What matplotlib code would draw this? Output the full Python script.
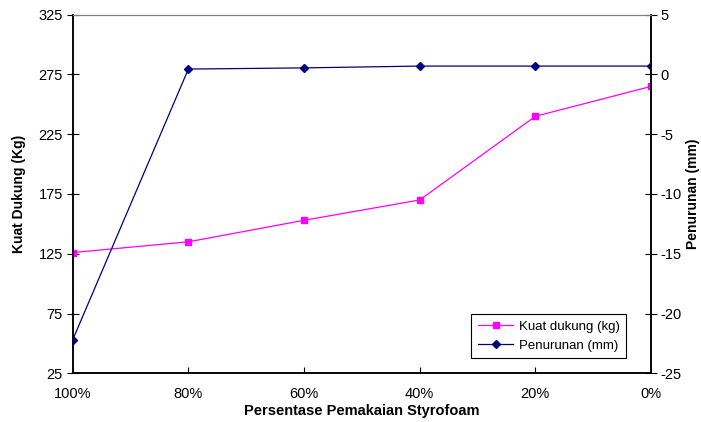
import matplotlib.pyplot as plt

# Kuat dukung vs penurunan terhadap persentase styrofoam
kategori = ['100%', '80%', '60%', '40%', '20%', '0%']
kuat_dukung = [126, 135, 153, 170, 240, 265]
penurunan = [-22.2, 0.45, 0.55, 0.7, 0.7, 0.7]

plt.rcParams['font.family'] = ['Liberation Sans', 'DejaVu Sans']
plt.rcParams['font.size'] = 10.5
plt.rcParams['axes.unicode_minus'] = False


def main():
    fig = plt.figure(figsize=(7.01, 4.22), dpi=100)
    ax = fig.add_axes([0.1037, 0.1154, 0.825, 0.8498])
    ax2 = ax.twinx()

    x = list(range(len(kategori)))
    l1, = ax.plot(x, kuat_dukung, color='#FF00FF', lw=0.9, marker='s',
                  markersize=4.5, label='Kuat dukung (kg)')
    l2, = ax2.plot(x, penurunan, color='#000080', lw=0.9, marker='D',
                   markersize=4, label='Penurunan (mm)')

    ax.set_xlim(0, len(kategori) - 1)
    ax.set_xticks(x)
    ax.set_xticklabels(kategori)
    ax.set_ylim(25, 325)
    ax.set_yticks(range(25, 326, 50))
    ax2.set_ylim(-25, 5)
    ax2.set_yticks(range(-25, 6, 5))

    ax.tick_params(axis='x', direction='in', length=4, width=0.8, pad=10)
    ax.tick_params(axis='y', direction='inout', length=8, width=0.8, pad=3)
    ax2.tick_params(axis='y', direction='inout', length=8, width=0.8, pad=3)

    for a in (ax, ax2):
        a.spines['top'].set_color('#808080')
        a.spines['left'].set_linewidth(1.1)
        a.spines['right'].set_linewidth(1.1)
        a.spines['bottom'].set_linewidth(1.1)

    ax.set_xlabel('Persentase Pemakaian Styrofoam', fontweight='bold', labelpad=2)
    ax.set_ylabel('Kuat Dukung (Kg)', fontweight='bold', fontsize=10, labelpad=9)
    ax2.set_ylabel('Penurunan (mm)', fontweight='bold', fontsize=10, labelpad=3)

    leg = ax2.legend(handles=[l1, l2], loc='lower right',
                     bbox_to_anchor=(0.957, 0.042), fancybox=False,
                     edgecolor='black', framealpha=1, handlelength=2.7,
                     borderpad=0.5, labelspacing=0.5, handletextpad=0.4,
                     borderaxespad=0, fontsize=9.5)
    leg.get_frame().set_linewidth(0.8)

    fig.savefig('out.png', dpi=100)


if __name__ == "__main__":
    main()
